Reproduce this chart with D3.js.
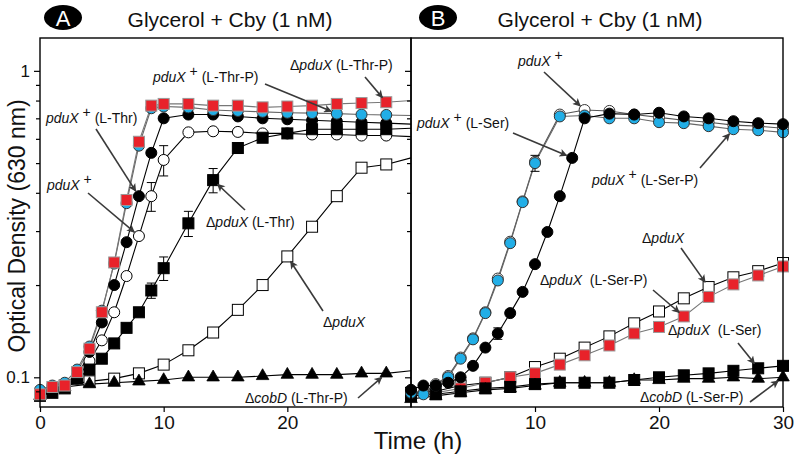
<!DOCTYPE html>
<html><head><meta charset="utf-8">
<script src="https://cdn.jsdelivr.net/npm/d3@7"></script>
<style>body{margin:0;background:#fff}svg{display:block}text{font-family:"Liberation Sans",Arial,Helvetica,sans-serif}</style>
</head><body><svg id="c" width="800" height="460"></svg>
<script>
// ---------- DATA ----------
const tHourlyA = [0,1,2,3,4,5,6,7,8,9,10,12,14,16,18,20,22,24,26,28,30];
const t2h      = [0,2,4,6,8,10,12,14,16,18,20,22,24,26,28,30];
const tHourlyB = [0,1,2,3,4,5,6,7,8,9,10,12,14,16,18,20,22,24,26,28,30];
const tBlackB  = [0,1,2,3,4,5,6,7,8,9,10,11,12,13,14,16,18,20,22,24,26,28,30];

// Panel A (L-Thr)
const aDeltaThrP   = [0.088,0.093,0.094,0.104,0.124,0.163,0.237,0.379,0.587,0.77,0.78,0.78,0.77,0.77,0.76,0.765,0.77,0.78,0.785,0.79,0.80];
const aPlusThrP    = [0.091,0.094,0.096,0.106,0.126,0.165,0.235,0.37,0.57,0.755,0.765,0.76,0.745,0.74,0.735,0.73,0.728,0.725,0.72,0.718,0.715];
const aPlusThr     = [0.089,0.090,0.093,0.100,0.121,0.151,0.200,0.276,0.39,0.54,0.70,0.72,0.72,0.71,0.70,0.695,0.69,0.685,0.68,0.675,0.67];
const aPlus        = [0.088,0.090,0.093,0.099,0.113,0.132,0.163,0.214,0.289,0.39,0.512,0.63,0.635,0.632,0.625,0.625,0.62,0.62,0.615,0.615,0.61];
const aDeltaThr    = [0.087,0.089,0.092,0.099,0.106,0.115,0.129,0.145,0.163,0.192,0.227,0.318,0.44,0.56,0.605,0.625,0.645,0.645,0.645,0.645,0.65];
const aDelta       = [0.088,0.094,0.097,0.099,0.103,0.110,0.1225,0.14,0.166,0.20,0.248,0.31,0.39,0.483,0.495,0.52];
const aCobThrP     = [0.087,0.093,0.095,0.096,0.097,0.098,0.100,0.100,0.100,0.101,0.102,0.102,0.102,0.103,0.103,0.105];
// error bars [time, sd]
const aPlusErr      = [[9,0.042],[10,0.058]];
const aDeltaThrErr  = [[9,0.011],[10,0.02],[12,0.03],[14,0.04],[16,0.022]];
const aDeltaThrPErr = [[28,0.02]];

// Panel B (L-Ser)
const bPlus        = [0.090,0.089,0.095,0.101,0.116,0.134,0.163,0.21,0.277,0.375,0.505,0.72,0.745,0.74,0.72,0.705,0.69,0.68,0.665,0.66,0.65];
const bPlusSerP    = [0.089,0.088,0.094,0.100,0.115,0.133,0.162,0.207,0.274,0.373,0.50,0.71,0.715,0.70,0.70,0.68,0.675,0.66,0.645,0.64,0.63];
const bPlusSer     = [0.091,0.094,0.094,0.096,0.100,0.109,0.125,0.139,0.162,0.19,0.234,0.298,0.39,0.52,0.70,0.725,0.72,0.73,0.71,0.70,0.685,0.675,0.67];
const bDelta       = [0.089,0.090,0.094,0.096,0.100,0.108,0.115,0.125,0.136,0.150,0.164,0.181,0.197,0.212,0.222,0.236];
const bDeltaSerP   = [0.088,0.089,0.092,0.096,0.100,0.103,0.110,0.118,0.127,0.139,0.146,0.158,0.183,0.201,0.215,0.23];
const bDeltaSer    = [0.087,0.088,0.090,0.092,0.093,0.095,0.096,0.096,0.096,0.098,0.100,0.1015,0.103,0.105,0.107,0.109];
const bCobSerP     = [0.085,0.087,0.089,0.091,0.092,0.094,0.096,0.096,0.096,0.098,0.098,0.099,0.099,0.100,0.099,0.100];
const bPlusSerPErr = [[10,0.03]];
const bPlusSerErr  = [[7,0.006]];

const xTicksA = [0,10,20];
const xTicksB = [10,20,30];
const yMajor = [0.1,1];
const yMinor = [0.09,0.2,0.3,0.4,0.5,0.6,0.7,0.8,0.9];

// ---------- STYLES ----------
const RED = "#e8222a", BLUE = "#22aee6";
const svg = d3.select("#c");
const y = d3.scaleLog().domain([0.08,1.28]).range([407,38]);
const xA = d3.scaleLinear().domain([0,30]).range([40,411]);
const xB = d3.scaleLinear().domain([0,30]).range([411,783]);

function zip(ts, vs){ return ts.map((t,i)=>({t, v:vs[i]})); }

const seriesA = [
  {d:zip(t2h,aDelta), shape:"square", fill:"#fff", stroke:"#000", line:"#000"},
  {d:zip(t2h,aCobThrP), shape:"tri", fill:"#000", stroke:"#000", line:"#000"},
  {d:zip(tHourlyA,aPlus), shape:"circle", fill:"#fff", stroke:"#000", line:"#000", err:aPlusErr},
  {d:zip(tHourlyA,aDeltaThr), shape:"square", fill:"#000", stroke:"#000", line:"#000", err:aDeltaThrErr},
  {d:zip(tHourlyA,aPlusThr), shape:"circle", fill:"#000", stroke:"#000", line:"#000"},
  {d:zip(tHourlyA,aPlusThrP), shape:"circle", fill:BLUE, stroke:"#333", line:"#666"},
  {d:zip(tHourlyA,aDeltaThrP), shape:"square", fill:RED, stroke:"#999", line:"#777", err:aDeltaThrPErr},
];
const seriesB = [
  {d:zip(t2h,bDelta), shape:"square", fill:"#fff", stroke:"#000", line:"#000"},
  {d:zip(t2h,bDeltaSerP), shape:"square", fill:RED, stroke:"#999", line:"#777"},
  {d:zip(t2h,bDeltaSer), shape:"square", fill:"#000", stroke:"#000", line:"#000"},
  {d:zip(t2h,bCobSerP), shape:"tri", fill:"#000", stroke:"#000", line:"#000"},
  {d:zip(tHourlyB,bPlus), shape:"circle", fill:"#fff", stroke:"#333", line:"#555"},
  {d:zip(tHourlyB,bPlusSerP), shape:"circle", fill:BLUE, stroke:"#333", line:"#666", err:bPlusSerPErr},
  {d:zip(tBlackB,bPlusSer), shape:"circle", fill:"#000", stroke:"#000", line:"#000", err:bPlusSerErr},
];

function drawPanel(x, series, markerMaxT){
  const g = svg.append("g");
  series.forEach(s=>{
    g.append("path").datum(s.d)
      .attr("d", d3.line().x(p=>x(p.t)).y(p=>y(p.v)))
      .attr("fill","none").attr("stroke",s.line).attr("stroke-width",1.1);
  });
  series.forEach(s=>{
    if(s.err){
      s.err.forEach(([t,sd])=>{
        const p = s.d.find(q=>q.t===t);
        const cx = x(t), y1 = y(p.v+sd), y2 = y(p.v-sd);
        g.append("line").attr("x1",cx).attr("x2",cx).attr("y1",y1).attr("y2",y2).attr("stroke","#000").attr("stroke-width",1);
        [y1,y2].forEach(yy=>g.append("line").attr("x1",cx-4.5).attr("x2",cx+4.5).attr("y1",yy).attr("y2",yy).attr("stroke","#000").attr("stroke-width",1));
      });
    }
  });
  series.forEach(s=>{
    s.d.filter(p=>p.t<=markerMaxT).forEach(p=>{
      const cx = x(p.t), cy = y(p.v);
      if(s.shape==="circle"){
        g.append("circle").attr("cx",cx).attr("cy",cy).attr("r",5.5).attr("fill",s.fill).attr("stroke",s.stroke).attr("stroke-width",1);
      } else if(s.shape==="square"){
        g.append("rect").attr("x",cx-5.5).attr("y",cy-5.5).attr("width",11).attr("height",11).attr("fill",s.fill).attr("stroke",s.stroke).attr("stroke-width",1);
      } else {
        g.append("path").attr("d",d3.symbol().type(d3.symbolTriangle).size(68)()).attr("transform",`translate(${cx},${cy})`).attr("fill",s.fill).attr("stroke",s.stroke).attr("stroke-width",0.8);
      }
    });
  });
}
drawPanel(xA, seriesA, 29);
drawPanel(xB, seriesB, 30);

// ---------- AXES / FRAME ----------
const fg = svg.append("g");
function yAxis(xpos, labels){
  const g = fg.append("g").attr("transform",`translate(${xpos},0)`);
  g.call(d3.axisLeft(y).tickValues(yMajor).tickSize(6).tickFormat(labels? d3.format("") : ""));
  g.append("g").call(d3.axisLeft(y).tickValues(yMinor).tickSize(4).tickFormat(""));
  g.selectAll(".domain").remove();
  g.selectAll("line").attr("stroke","#000").attr("stroke-width",1.2);
  g.selectAll("text").attr("font-size",17).attr("fill","#111").attr("dx",-1);
}
yAxis(40,true);
yAxis(411,false);
function xAxis(x, ticks){
  const g = fg.append("g").attr("transform","translate(0,407)");
  g.call(d3.axisBottom(x).tickValues(ticks).tickSize(5).tickPadding(4).tickFormat(d3.format("")));
  g.selectAll(".domain").remove();
  g.selectAll("line").attr("stroke","#000").attr("stroke-width",1.2);
  g.selectAll("text").attr("font-size",19).attr("fill","#111");
}
xAxis(xA, xTicksA);
xAxis(xB, xTicksB);
fg.append("rect").attr("x",40).attr("y",38).attr("width",371).attr("height",369).attr("fill","none").attr("stroke","#000").attr("stroke-width",1.4);
fg.append("rect").attr("x",411).attr("y",38).attr("width",372).attr("height",369).attr("fill","none").attr("stroke","#000").attr("stroke-width",1.4);

// titles & badges
[[63,"A",230],[438,"B",600]].forEach(([bx,letter,tx])=>{
  fg.append("ellipse").attr("cx",bx).attr("cy",17.5).attr("rx",19).attr("ry",12.5).attr("fill","#000");
  fg.append("text").attr("x",bx).attr("y",25.5).attr("text-anchor","middle").attr("fill","#fff").attr("font-size",22).text(letter);
  fg.append("text").attr("x",tx).attr("y",27).attr("text-anchor","middle").attr("font-size",21).attr("fill","#111").text("Glycerol + Cby (1 nM)");
});
fg.append("text").attr("transform","translate(25,226) rotate(-90)").attr("text-anchor","middle").attr("font-size",23).attr("fill","#111").text("Optical Density (630 nm)");
fg.append("text").attr("x",418).attr("y",449).attr("text-anchor","middle").attr("font-size",24).attr("fill","#111").text("Time (h)");

// ---------- ANNOTATIONS ----------
const defs = svg.append("defs");
defs.append("marker").attr("id","ah").attr("viewBox","0 0 10 10").attr("refX",9).attr("refY",5)
  .attr("markerWidth",10).attr("markerHeight",8).attr("markerUnits","userSpaceOnUse").attr("orient","auto")
  .append("path").attr("d","M0,0 L10,5 L0,10 L2.5,5 Z").attr("fill","#3a3a3a");

// [prefix, gene, plus?, suffix, textX, textY, startX, startY, panel, seriesIndex, t]
const notes = [
  ["\u0394","pduX",false," (L-Thr-P)",290,70,365,77,"A",6,28],
  ["","pduX",true," (L-Thr-P)",153,82,265,84,"A",5,24],
  ["","pduX",true," (L-Thr)",46,123,96,129,"A",4,8],
  ["","pduX",true,"",47,190,88,193,"A",2,8],
  ["\u0394","pduX",false," (L-Thr)",206,227,245,210,"A",3,14],
  ["\u0394","pduX",false,"",323,327,323,311,"A",0,20],
  ["\u0394","cobD",false," (L-Thr-P)",245,403,358,398,"A",1,28],
  ["","pduX",true,"",518,66,544,72,"B",4,14],
  ["","pduX",true," (L-Ser)",417,128,513,133,"B",6,13],
  ["","pduX",true," (L-Ser-P)",592,185,700,168,"B",5,26],
  ["\u0394","pduX",false,"",642,243,681,248,"B",0,24],
  ["\u0394","pduX",false,"  (L-Ser-P)",540,285,653,290,"B",1,22],
  ["\u0394","pduX",false,"  (L-Ser)",668,335,738,343,"B",2,28],
  ["\u0394","cobD",false," (L-Ser-P)",640,402,750,402,"B",3,30],
];
const ag = svg.append("g");
notes.forEach(([pre,gene,plus,suf,tx,ty,sx,sy,panel,si,t])=>{
  const s = (panel==="A"?seriesA:seriesB)[si];
  const x = panel==="A"?xA:xB;
  const p = s.d.find(q=>q.t===t);
  const px = x(p.t), py = y(p.v);
  const dx = px-sx, dy = py-sy, L = Math.hypot(dx,dy), k = (L-6)/L;
  ag.append("line").attr("x1",sx).attr("y1",sy).attr("x2",sx+dx*k).attr("y2",sy+dy*k)
    .attr("stroke","#3a3a3a").attr("stroke-width",1.6).attr("marker-end","url(#ah)");
  const tt = ag.append("text").attr("x",tx).attr("y",ty).attr("font-size",14).attr("fill","#111").attr("xml:space","preserve");
  if(pre) tt.append("tspan").text(pre);
  tt.append("tspan").attr("font-style","italic").text(gene);
  if(plus){
    tt.append("tspan").attr("dy",-6).attr("font-size",14).text(" +");
    tt.append("tspan").attr("dy",6).text(suf);
  } else tt.append("tspan").text(suf);
});
</script></body></html>
